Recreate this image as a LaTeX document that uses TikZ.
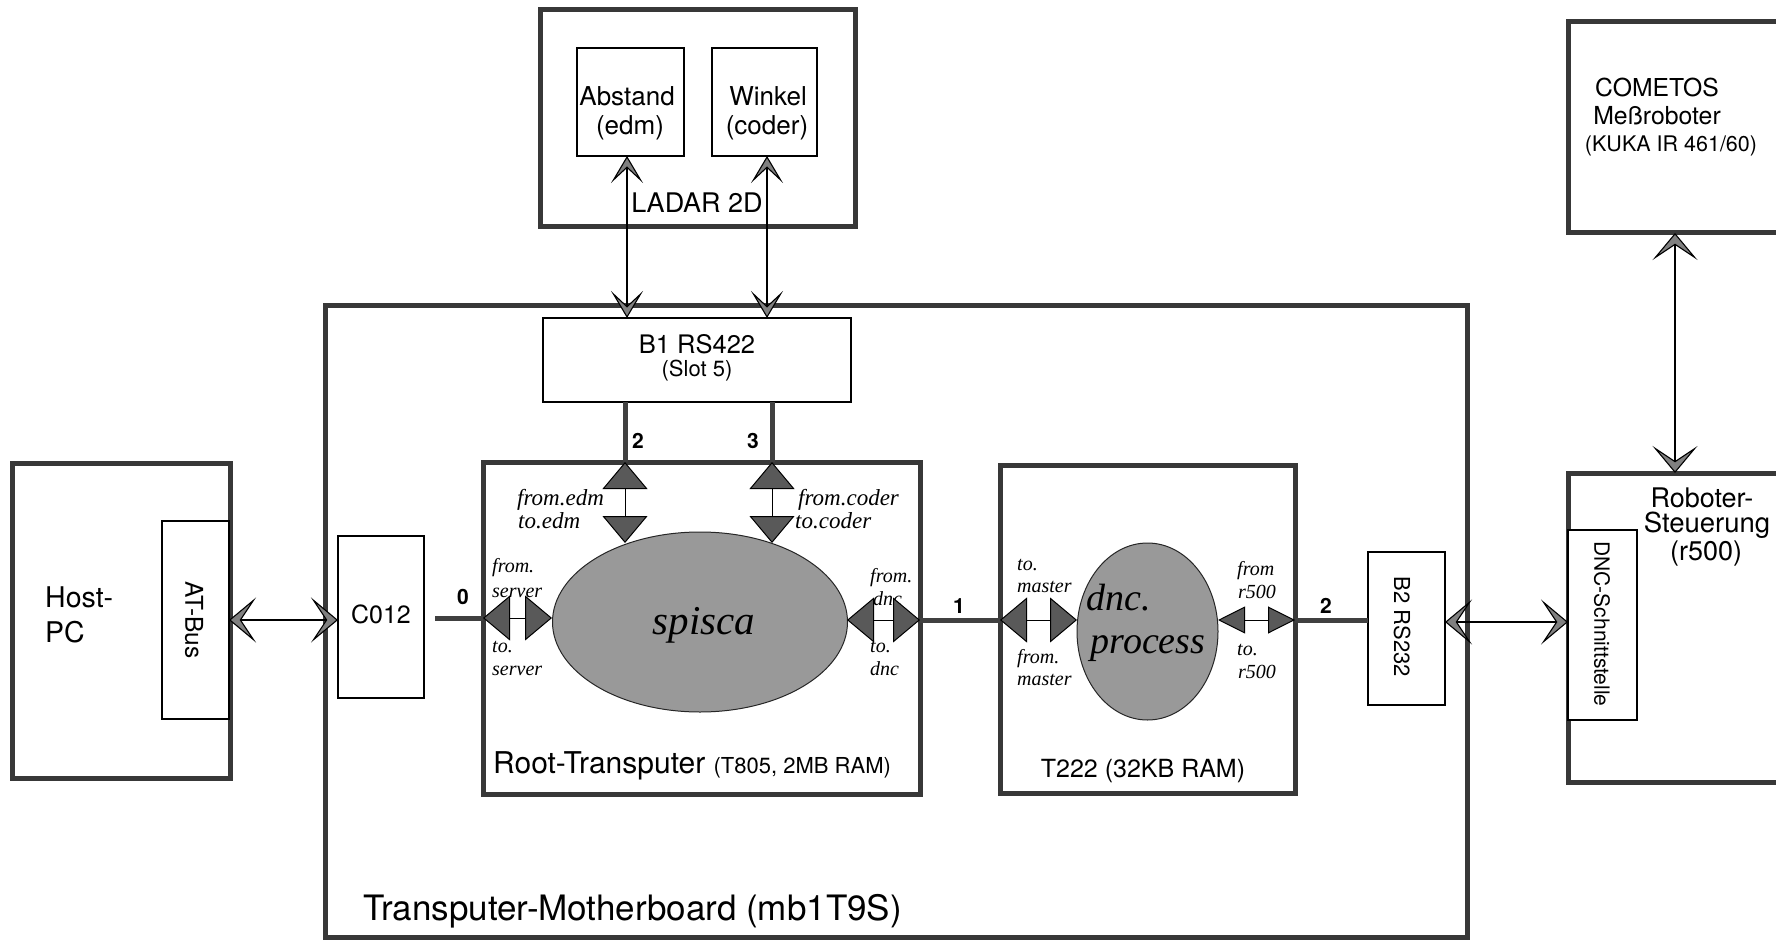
\documentclass[tikz,border=0pt]{standalone}
\usepackage{fontspec}
\setmainfont{TeX Gyre Heros}
\newfontfamily\serf{Liberation Serif}
\usetikzlibrary{arrows.meta,shapes.geometric}
\newcommand\myfs[1]{\fontsize{#1}{#1}\selectfont}
\tikzset{
  thickbox/.style={draw=black!78, line width=5pt, fill=white, inner sep=0pt, outer sep=0pt},
  thinbox/.style={draw=black, line width=1.4pt, fill=white, inner sep=0pt, outer sep=0pt},
  link/.style={draw=black!75, line width=5pt},
  chev/.tip={Stealth[length=27pt,width=45pt,inset=15pt,fill=black!50]},
  chevS/.tip={Stealth[length=27pt,width=32pt,inset=15pt,fill=black!50]},
  trib/.tip={Triangle[length=27pt,width=45pt,fill=black!65]},
  tris/.tip={Triangle[length=27pt,width=27pt,fill=black!65]},
  conn/.style={draw=black, line width=1.1pt, chev-chev},
  connS/.style={draw=black, line width=1.1pt, chevS-chevS},
  tripair/.style={draw=black, line width=1pt, trib-trib},
  tripairS/.style={draw=black, line width=1pt, tris-tris},
  proc/.style={ellipse, draw=black!85, line width=1pt, fill=black!40, inner sep=0pt, outer sep=0pt},
  lbl/.style={inner sep=0pt, anchor=base},
  lblw/.style={inner sep=0pt, anchor=base west},
  itl/.style={inner sep=0pt, anchor=base west, font=\serf\itshape\myfs{20}},
  itlb/.style={inner sep=0pt, anchor=base west, font=\serf\itshape\myfs{23}},
  num/.style={inner sep=0pt, anchor=base, font=\bfseries\myfs{21}},
}
\begin{document}
\begin{tikzpicture}[x=1pt,y=-1pt]
\useasboundingbox (0,0) rectangle (1776,941);
\clip (0,0) rectangle (1776,941);
% helper coordinates
\coordinate (edm) at (625,0);
\coordinate (cod) at (772,0);
\coordinate (edmA) at (627,0);
\coordinate (codA) at (767,0);
\coordinate (Lc) at (1675,0);
\coordinate (L0) at (0,618);
\coordinate (L1) at (0,620);
\coordinate (Lh) at (0,620);
\coordinate (Lr) at (0,622);
\coordinate (edmE) at (625,543);
\coordinate (codE) at (772,543);
\coordinate (srvE) at (552,618);
\coordinate (dncE) at (847,620);
\coordinate (mstE) at (1077,620);
\coordinate (r5E) at (1218,620);
% boxes
\node[thickbox, minimum width=1142pt, minimum height=632pt] (MB) at (896,621) {};
\node[thickbox, minimum width=218pt, minimum height=315pt] (Host) at (121,620.5) {};
\node[thinbox, minimum width=67pt, minimum height=198pt] (ATBus) at (195.5,620) {};
\node[thinbox, minimum width=86pt, minimum height=162pt] (C012) at (381,617) {};
\node[thickbox, minimum width=315pt, minimum height=217pt] (LADAR) at (697.5,118.5) {};
\node[thinbox, minimum width=107pt, minimum height=108pt] (Abst) at (630.5,102) {};
\node[thinbox, minimum width=105pt, minimum height=108pt] (Wink) at (764.5,102) {};
\node[thinbox, minimum width=308pt, minimum height=84pt] (B1) at (697,360) {};
\node[thickbox, minimum width=437pt, minimum height=332pt] (Root) at (701.5,628) {};
\node[thickbox, minimum width=295pt, minimum height=328pt] (T222) at (1147.5,629) {};
\node[thinbox, minimum width=77pt, minimum height=153pt] (B2) at (1406.5,628.5) {};
\node[thickbox, minimum width=232pt, minimum height=211pt] (COM) at (1684,127.5) {};
\node[thickbox, minimum width=232pt, minimum height=309pt] (Rob) at (1684,627.5) {};
\node[thinbox, minimum width=69pt, minimum height=190pt] (DNC) at (1602.5,625) {};
\node[proc, minimum width=295pt, minimum height=180pt] (spisca) at (700,622) {};
\node[proc, minimum width=141pt, minimum height=177pt] (dncp) at (1147.5,631.5) {};
% thick links
\draw[link] (B1.south -| edm) -- (Root.north -| edm);
\draw[link] (B1.south -| cod) -- (Root.north -| cod);
\draw[link, shorten <=11pt] (C012.east |- L0) -- (Root.west |- L0);
\draw[link] (Root.east |- L1) -- (T222.west |- L1);
\draw[link] (T222.east |- L1) -- (B2.west |- L1);
% box texts
\node[lbl, font=\myfs{26}] (tAb1) at (627,106) {Abstand};
\node[lbl, font=\myfs{26}] (tAb2) at (630,135) {(edm)};
\node[lbl, font=\myfs{26}] (tWi1) at (768,106) {Winkel};
\node[lbl, font=\myfs{26}] (tWi2) at (767,135) {(coder)};
\node[lbl, font=\myfs{27}] (tLad) at (697,213) {LADAR 2D};
\node[lbl, font=\myfs{25.5}] (tB1a) at (697,353) {B1 RS422};
\node[lbl, font=\myfs{22}] (tB1b) at (697,376) {(Slot 5)};
\node[lbl, font=\myfs{25}] (tC012) at (381,623) {C012};
\node[lblw, font=\myfs{28.5}] (tHo1) at (45,607) {Host-};
\node[lblw, font=\myfs{28.5}] (tHo2) at (45,642) {PC};
\node[rotate=-90, inner sep=0pt, font=\myfs{24.5}] (tAT) at (194,620) {AT-Bus};
\node[rotate=-90, inner sep=0pt, font=\myfs{22}] (tB2) at (1402,627) {B2 RS232};
\node[rotate=-90, inner sep=0pt, font=\myfs{21}] (tDNC) at (1602,624) {DNC-Schnittstelle};
\node[lbl, font=\myfs{24.7}] (tCo1) at (1657,97) {COMETOS};
\node[lbl, font=\myfs{24.8}] (tCo2) at (1657,125) {Meßroboter};
\node[lbl, font=\myfs{21.5}] (tCo3) at (1671,152) {(KUKA IR 461/60)};
\node[lbl, font=\myfs{27}] (tRo1) at (1702,507) {Roboter-};
\node[lbl, font=\myfs{27.5}] (tRo2) at (1707,532) {Steuerung};
\node[lbl, font=\myfs{27}] (tRo3) at (1706,560) {(r500)};
\node[lblw, font=\myfs{35}] (tMB) at (363,920) {Transputer-Motherboard (mb1T9S)};
\node[lblw] (tRoot) at (493,773) {\myfs{30}Root-Transputer \myfs{22}(T805, 2MB RAM)};
\node[lbl, font=\myfs{25}] (tT222) at (1143,777) {T222 (32KB RAM)};
% numbers
\node[num] (n2a) at (638,448) {2};
\node[num] (n3) at (753,448) {3};
\node[num] (n0) at (463,604) {0};
\node[num] (n1) at (959,613) {1};
\node[num] (n2b) at (1326,613) {2};
% process names
\node[lbl, font=\serf\itshape\myfs{41}] (tsp) at (704,634) {spisca};
\node[lbl, font=\serf\itshape\myfs{38}] (tdn1) at (1119,610) {dnc.};
\node[lbl, font=\serf\itshape\myfs{38}] (tdn2) at (1148,653) {process};
% channel labels
\node[itlb] (c1) at (517,505) {from.edm};
\node[itlb] (c2) at (518,528) {to.edm};
\node[itlb] (c3) at (798,505) {from.coder};
\node[itlb] (c4) at (795,528) {to.coder};
\node[itl] (c5) at (492,572) {from.};
\node[itl] (c6) at (492,597) {server};
\node[itl] (c7) at (492,652) {to.};
\node[itl] (c8) at (492,675) {server};
\node[itl] (c9) at (870,582) {from.};
\node[itl] (c10) at (873,605) {dnc};
\node[itl] (c11) at (870,652) {to.};
\node[itl] (c12) at (870,675) {dnc};
\node[itl] (c13) at (1017,570) {to.};
\node[itl] (c14) at (1017,592) {master};
\node[itl] (c15) at (1017,663) {from.};
\node[itl] (c16) at (1017,685) {master};
\node[itl] (c17) at (1237,575) {from};
\node[itl] (c18) at (1238,598) {r500};
\node[itl] (c19) at (1237,655) {to.};
\node[itl] (c20) at (1238,678) {r500};
% channel triangles
\draw[tripair] (Root.north -| edm) -- (edmE);
\draw[tripair] (Root.north -| cod) -- (codE);
\draw[tripair] (Root.west |- L0) -- (srvE);
\draw[tripair] (dncE) -- (Root.east |- L1);
\draw[tripair] (T222.west |- L1) -- (mstE);
\draw[tripairS] (r5E) -- (T222.east |- L1);
% thin arrows
\draw[connS] (Abst.south -| edmA) -- (B1.north -| edmA);
\draw[connS] (Wink.south -| codA) -- (B1.north -| codA);
\draw[conn] (ATBus.east |- Lh) -- (C012.west |- Lh);
\draw[conn] (B2.east |- Lr) -- (DNC.west |- Lr);
\draw[conn] (COM.south -| Lc) -- (Rob.north -| Lc);
\end{tikzpicture}
\end{document}
